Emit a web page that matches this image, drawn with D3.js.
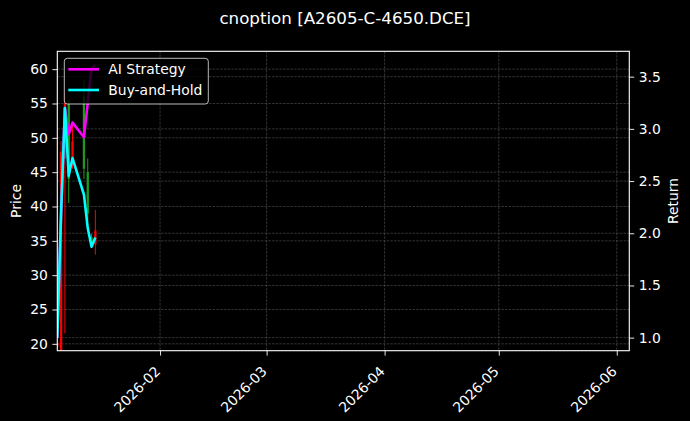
<!DOCTYPE html>
<html>
<head>
<meta charset="utf-8">
<script src="https://cdn.jsdelivr.net/npm/d3@7"></script>
<style>
  body { margin: 0; background: #000; }
  svg { display: block; font-family: "DejaVu Sans", sans-serif; }
</style>
</head>
<body>
<svg id="chart" width="690" height="421"></svg>
<script>
// --- Data ---
const dates = ["2026-01-05", "2026-01-06", "2026-01-07", "2026-01-08", "2026-01-09",
               "2026-01-12", "2026-01-13", "2026-01-14", "2026-01-15"];
const openPrice  = [19.6, 19.0, 47.0, 55.0, 46.5, 56.0, 45.0, 35.5, 34.5];
const highPrice  = [20.4, 49.5, 56.5, 55.5, 52.0, 58.5, 47.0, 36.0, 39.5];
const lowPrice   = [19.3, 19.0, 21.5, 40.5, 45.5, 44.0, 38.0, 34.0, 33.0];
const closePrice = [20.1, 48.0, 55.0, 44.0, 49.5, 45.5, 39.0, 34.5, 36.5];
const aiReturn = [1.0, 2.2, 3.2, 2.95, 3.06, 2.92, 3.25, 3.58, 3.61];
const bhReturn = [1.0, 2.2, 3.2, 2.55, 2.72, 2.37, 2.05, 1.87, 1.96];
const priceTicks = [20, 25, 30, 35, 40, 45, 50, 55, 60];
const returnTicks = [1.0, 1.5, 2.0, 2.5, 3.0, 3.5];
const monthTicks = ["2026-02-01", "2026-03-01", "2026-04-01", "2026-05-01", "2026-06-01"];
const seriesNames = ["AI Strategy", "Buy-and-Hold"];

const svg = d3.select("#chart");
const width = +svg.attr("width");
const height = +svg.attr("height");
svg.append("rect").attr("width", width).attr("height", height).attr("fill", "#000");

const margin = { top: 51.3, right: 60.7, bottom: 70.3, left: 57.3 };
const innerWidth = width - margin.left - margin.right;
const innerHeight = height - margin.top - margin.bottom;
const g = svg.append("g").attr("transform", `translate(${margin.left},${margin.top})`);

const parse = d3.utcParse("%Y-%m-%d");
const rows = dates.map((d, i) => ({
  date: parse(d), open: openPrice[i], high: highPrice[i], low: lowPrice[i], close: closePrice[i],
  ai: aiReturn[i], bh: bhReturn[i]
}));

// --- Scales ---
const x = d3.scaleUtc()
  .domain([parse("2026-01-05"), new Date(Date.UTC(2026, 5, 4, 7))])
  .range([0, innerWidth]);
const y = d3.scaleLinear().domain([19.0, 62.6]).range([innerHeight, 0]);
const y2 = d3.scaleLinear().domain([0.875, 3.743]).range([innerHeight, 0]);

g.append("clipPath").attr("id", "plot-clip")
  .append("rect").attr("width", innerWidth).attr("height", innerHeight);

// --- Gridlines ---
const gridStyle = sel => sel.attr("stroke", "#5a5a5a").attr("stroke-width", 0.7)
  .attr("stroke-dasharray", "2.6,1.1").attr("opacity", 0.8);
g.append("g").selectAll("line").data(priceTicks).join("line")
  .attr("x1", 0).attr("x2", innerWidth).attr("y1", d => y(d)).attr("y2", d => y(d)).call(gridStyle);
g.append("g").selectAll("line").data(returnTicks).join("line")
  .attr("x1", 0).attr("x2", innerWidth).attr("y1", d => y2(d)).attr("y2", d => y2(d)).call(gridStyle);
g.append("g").selectAll("line").data(monthTicks.map(parse)).join("line")
  .attr("y1", 0).attr("y2", innerHeight).attr("x1", d => x(d)).attr("x2", d => x(d)).call(gridStyle);

// --- Candles ---
const plot = g.append("g").attr("clip-path", "url(#plot-clip)");
const dayPx = x(parse("2026-01-06")) - x(parse("2026-01-05"));
const bodyW = dayPx * 0.6;
const candleColor = d => d.close >= d.open ? "#ff0000" : "#1f9a1f";
const candles = plot.selectAll(".candle").data(rows).join("g").attr("class", "candle");
candles.append("line")
  .attr("x1", d => x(d.date)).attr("x2", d => x(d.date))
  .attr("y1", d => y(d.high)).attr("y2", d => y(d.low))
  .attr("stroke", candleColor).attr("stroke-width", 1);
candles.append("rect")
  .attr("x", d => x(d.date) - bodyW / 2).attr("width", bodyW)
  .attr("y", d => y(Math.max(d.open, d.close)))
  .attr("height", d => Math.max(1, Math.abs(y(d.open) - y(d.close))))
  .attr("fill", candleColor);

// --- Return lines ---
const color = d3.scaleOrdinal().domain(seriesNames).range(["#ff00ff", "#00ffff"]);
const lineAI = d3.line().x(d => x(d.date)).y(d => y2(d.ai));
const lineBH = d3.line().x(d => x(d.date)).y(d => y2(d.bh));
plot.append("path").datum(rows).attr("fill", "none").attr("stroke", color("AI Strategy"))
  .attr("stroke-width", 2.6).attr("stroke-linejoin", "round").attr("d", lineAI);
plot.append("path").datum(rows).attr("fill", "none").attr("stroke", color("Buy-and-Hold"))
  .attr("stroke-width", 2.6).attr("stroke-linejoin", "round").attr("d", lineBH);

// --- Axes ---
const styleAxis = sel => {
  sel.select(".domain").remove();
  sel.selectAll("line").attr("stroke", "#fff").attr("stroke-width", 0.9);
  sel.selectAll("text").attr("fill", "#fff").attr("font-size", 13.9)
    .attr("font-family", "DejaVu Sans, sans-serif");
};
g.append("g")
  .call(d3.axisLeft(y).tickValues(priceTicks).tickSize(4.9).tickPadding(4.5).tickFormat(d3.format("d")))
  .call(styleAxis);
g.append("g").attr("transform", `translate(${innerWidth},0)`)
  .call(d3.axisRight(y2).tickValues(returnTicks).tickSize(4.9).tickPadding(4.5).tickFormat(d3.format(".1f")))
  .call(styleAxis);
const xAxis = g.append("g").attr("transform", `translate(0,${innerHeight})`)
  .call(d3.axisBottom(x).tickValues(monthTicks.map(parse)).tickSize(4.9).tickFormat(d3.utcFormat("%Y-%m")))
  .call(styleAxis);
xAxis.selectAll("text")
  .attr("text-anchor", "end")
  .attr("dy", 0)
  .attr("transform", "translate(-5,16) rotate(-45)");

// frame
g.append("rect").attr("width", innerWidth).attr("height", innerHeight)
  .attr("fill", "none").attr("stroke", "#fff").attr("stroke-width", 1.1);

// --- Labels ---
svg.append("text").attr("x", width / 2).attr("y", 24).attr("text-anchor", "middle")
  .attr("fill", "#fff").attr("font-size", 16.7).text("cnoption [A2605-C-4650.DCE]");
svg.append("text").attr("transform", `translate(21,${margin.top + innerHeight / 2}) rotate(-90)`)
  .attr("text-anchor", "middle").attr("fill", "#fff").attr("font-size", 13.9).text("Price");
svg.append("text").attr("transform", `translate(678,${margin.top + innerHeight / 2}) rotate(-90)`)
  .attr("text-anchor", "middle").attr("fill", "#fff").attr("font-size", 13.9).text("Return");

// --- Legend ---
const legend = svg.append("g").attr("transform", "translate(64.3,58.3)");
legend.append("rect").attr("width", 144).attr("height", 45.7).attr("rx", 3)
  .attr("fill", "#000").attr("fill-opacity", 0.8)
  .attr("stroke", "#d8d8d8").attr("stroke-opacity", 0.85);
const items = legend.selectAll(".legend-item").data(seriesNames).join("g")
  .attr("class", "legend-item")
  .attr("transform", (_, i) => `translate(0,${11 + i * 20.7})`);
items.append("line").attr("x1", 4).attr("x2", 34.7).attr("y1", 0).attr("y2", 0)
  .attr("stroke", color).attr("stroke-width", 2.6);
items.append("text").attr("x", 44).attr("y", 5).attr("fill", "#fff")
  .attr("font-size", 13.9).text(d => d);
</script>
</body>
</html>
